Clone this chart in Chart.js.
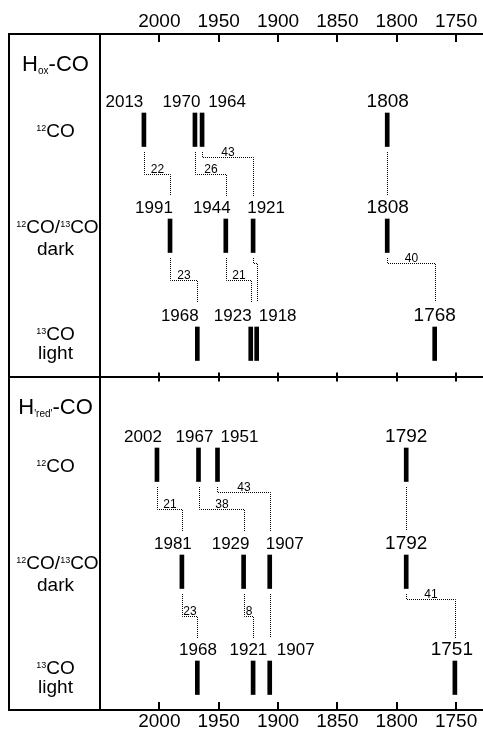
<!DOCTYPE html>
<html>
<head>
<meta charset="utf-8">
<script src="https://cdn.jsdelivr.net/npm/chart.js@4.4.1/dist/chart.umd.min.js"></script>
<style>
  html, body { margin: 0; padding: 0; background: #fff; }
  canvas { display: block; }
</style>
</head>
<body>
<canvas id="c" width="483" height="730"></canvas>
<script>
// CO stretching bands (cm^-1), one list per isotopologue row
const hoxCO12   = [2013, 1970, 1964, 1808];
const hoxDark   = [1991, 1944, 1921, 1808];
const hoxLight  = [1968, 1923, 1918, 1768];
const hredCO12  = [2002, 1967, 1951, 1792];
const hredDark  = [1981, 1929, 1907, 1792];
const hredLight = [1968, 1921, 1907, 1751];

// isotope shifts written on the connectors (band i of one row -> band i of the next)
const hoxShift12ToDark     = [22, 26, 43, null];
const hoxShiftDarkToLight  = [23, 21, null, 40];
const hredShift12ToDark    = [21, 38, 43, null];
const hredShiftDarkToLight = [23, 8, null, 41];

const tickValues = [2000, 1950, 1900, 1850, 1800, 1750];
const panelStates = ['ox', "'red'"];

const rowValues = [hoxCO12, hoxDark, hoxLight, hredCO12, hredDark, hredLight];
const links = [
  [0, 1, hoxShift12ToDark], [1, 2, hoxShiftDarkToLight],
  [3, 4, hredShift12ToDark], [4, 5, hredShiftDarkToLight]
];

// ---- layout ----
const FONT = "'Liberation Sans', Arial, Helvetica, sans-serif";
const X_MIN = 1727.3, X_MAX = 2050;
const Y_SPAN = 676;                 // y axis in px-like units, top to bottom
const ROW_TOP = [79, 185, 293, 414, 521, 627];
const BAR_LEN = 33.5;
const PANEL_SPLIT = 342.8;
const LABEL_DX = [
  [-19.5, -13.5, 25, 0.5],
  [-16, -14, 13, 0.5],
  [-17.5, -18, 21, 0],
  [-14, -4, 22, 0],
  [-9, -13, 15, 0],
  [0.7, -4.7, 26, -3]
];

function richText(ctx, parts, cx, baseline) {
  let w = 0;
  parts.forEach(p => { ctx.font = p[1] + 'px ' + FONT; w += ctx.measureText(p[0]).width; });
  let x = cx - w / 2;
  ctx.textAlign = 'left';
  ctx.textBaseline = 'alphabetic';
  parts.forEach(p => {
    ctx.font = p[1] + 'px ' + FONT;
    ctx.fillText(p[0], x, baseline + (p[2] || 0));
    x += ctx.measureText(p[0]).width;
  });
}

const decor = {
  id: 'decor',
  afterDraw(chart) {
    const { ctx, chartArea: a, scales } = chart;
    const px = v => scales.x.getPixelForValue(v);
    const py = v => scales.y.getPixelForValue(v);
    const midY = Math.round(py(PANEL_SPLIT));
    const left = 9;
    ctx.save();
    ctx.fillStyle = '#000';

    // frame and panel divider
    ctx.strokeStyle = '#000';
    ctx.lineWidth = 2;
    ctx.beginPath();
    [a.top, midY, a.bottom].forEach(y => { ctx.moveTo(left - 1, y); ctx.lineTo(a.right, y); });
    ctx.moveTo(left, a.top); ctx.lineTo(left, a.bottom);
    ctx.moveTo(a.left, a.top); ctx.lineTo(a.left, a.bottom);
    ctx.stroke();

    // inward tick marks on every horizontal axis line
    ctx.beginPath();
    scales.x.ticks.forEach(t => {
      const x = Math.round(px(t.value));
      ctx.moveTo(x, a.top); ctx.lineTo(x, a.top + 8);
      ctx.moveTo(x, midY - 4.5); ctx.lineTo(x, midY + 4.5);
      ctx.moveTo(x, a.bottom); ctx.lineTo(x, a.bottom - 8);
    });
    ctx.stroke();

    // band labels
    ctx.textAlign = 'center';
    ctx.textBaseline = 'alphabetic';
    rowValues.forEach((vals, r) => vals.forEach((v, i) => {
      ctx.font = (i === vals.length - 1 ? 19 : 17) + 'px ' + FONT;
      ctx.fillText(String(v), px(v) + LABEL_DX[r][i], py(ROW_TOP[r]) - 6);
    }));

    // dotted connectors between corresponding bands
    ctx.strokeStyle = '#000';
    ctx.lineWidth = 1;
    ctx.setLineDash([1, 1]);
    links.forEach(([r0, r1, shifts]) => {
      const B = Math.round(py(ROW_TOP[r0] + BAR_LEN));
      rowValues[r0].forEach((v0, i) => {
        const v1 = rowValues[r1][i];
        const x0 = Math.round(px(v0)) + 0.5;
        const x1 = Math.round(px(v1)) + 0.5;
        const yl = B + (i < 2 ? 27 : 10) + 0.5;
        ctx.beginPath();
        ctx.moveTo(x0, B + 5);
        ctx.lineTo(x0, yl);
        ctx.lineTo(x1, yl);
        ctx.lineTo(x1, B + 49);
        ctx.stroke();
        if (shifts[i] != null) {
          ctx.font = '12px ' + FONT;
          ctx.textAlign = 'center';
          ctx.fillText(String(shifts[i]), (x0 + x1) / 2, yl - 2);
        }
      });
    });
    ctx.setLineDash([]);

    // row captions in the left column
    const cx = 55.5;
    panelStates.forEach((sub, p) => {
      const r = p * 3;
      const top = p === 0 ? a.top : midY;
      richText(ctx, [['H', 22], [sub, 10, 3], ['-CO', 22]], cx, top + 37);
      richText(ctx, [['12', 9, -6], ['CO', 19]], cx, py(ROW_TOP[r]) + 24);
      richText(ctx, [['12', 9, -6], ['CO/', 19], ['13', 9, -6], ['CO', 19]], 57.5, py(ROW_TOP[r + 1]) + 14);
      richText(ctx, [['dark', 19]], cx, py(ROW_TOP[r + 1]) + 36);
      richText(ctx, [['13', 9, -6], ['CO', 19]], cx, py(ROW_TOP[r + 2]) + 13);
      richText(ctx, [['light', 19]], cx, py(ROW_TOP[r + 2]) + 32);
    });
    ctx.restore();
  }
};

function xAxis(position, height, pad) {
  return {
    type: 'linear',
    position: position,
    min: X_MIN,
    max: X_MAX,
    reverse: true,
    offset: false,
    grid: { display: false, drawTicks: false },
    border: { display: false },
    afterBuildTicks: s => { s.ticks = tickValues.map(v => ({ value: v })); },
    afterFit: s => { s.height = height; },
    ticks: {
      font: { family: FONT, size: 19 },
      color: '#000',
      padding: pad,
      autoSkip: false,
      maxRotation: 0,
      callback: v => String(v)
    }
  };
}

new Chart(document.getElementById('c'), {
  type: 'bar',
  data: {
    datasets: rowValues.map((vals, r) => ({
      data: vals.map(v => ({ x: v, y: [ROW_TOP[r], ROW_TOP[r] + BAR_LEN] })),
      backgroundColor: '#000',
      borderWidth: 0,
      barThickness: 4,
      grouped: false
    }))
  },
  options: {
    responsive: false,
    animation: false,
    devicePixelRatio: 1,
    layout: { padding: { left: 100, right: 0, top: 0, bottom: 0 } },
    plugins: { legend: { display: false }, tooltip: { enabled: false } },
    scales: {
      x: xAxis('top', 34, 1),
      x2: xAxis('bottom', 20, 0),
      y: { type: 'linear', min: 0, max: Y_SPAN, reverse: true, display: false }
    }
  },
  plugins: [decor]
});
</script>
</body>
</html>
